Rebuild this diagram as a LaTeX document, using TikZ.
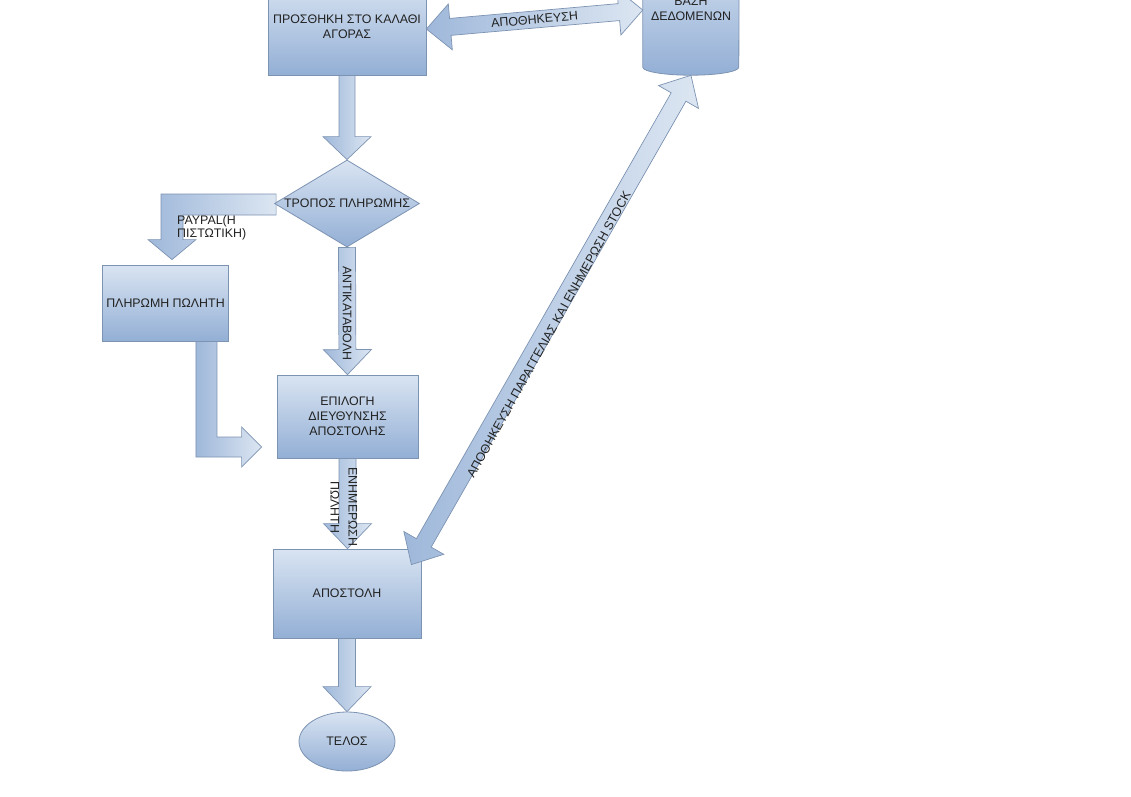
\documentclass[tikz,border=0pt]{standalone}
\usepackage{fontspec}
\setmainfont{Liberation Sans}
\usetikzlibrary{shapes.geometric,calc,backgrounds}
\definecolor{boxtop}{HTML}{D9E4F2}
\definecolor{boxbot}{HTML}{93AFD5}
\definecolor{edge}{HTML}{7D93B2}
\definecolor{arrdark}{HTML}{9FB8DA}
\definecolor{arrlight}{HTML}{DCE6F2}
\definecolor{txt}{HTML}{222222}

% single block arrow: start, end, shaft half width, head half width, head length
\newcommand\sblockarrow[5]{%
  \path (#1) coordinate (baA) (#2) coordinate (baB);
  \pgfpointdiff{\pgfpointanchor{baA}{center}}{\pgfpointanchor{baB}{center}}%
  \pgfgetlastxy{\badx}{\bady}%
  \pgfmathsetmacro\baang{atan2(\bady,\badx)}%
  \pgfmathsetmacro\balen{veclen(\badx,\bady)}%
  \begin{scope}[shift={(baA)},rotate=\baang]
    \draw[blockarr] (0pt,#3pt) -- ({\balen pt-#5pt},#3pt) -- ({\balen pt-#5pt},#4pt)
      -- (\balen pt,0pt) -- ({\balen pt-#5pt},-#4pt) -- ({\balen pt-#5pt},-#3pt)
      -- (0pt,-#3pt) -- cycle;
  \end{scope}}
% double block arrow
\newcommand\dblockarrow[5]{%
  \path (#1) coordinate (baA) (#2) coordinate (baB);
  \pgfpointdiff{\pgfpointanchor{baA}{center}}{\pgfpointanchor{baB}{center}}%
  \pgfgetlastxy{\badx}{\bady}%
  \pgfmathsetmacro\baang{atan2(\bady,\badx)}%
  \pgfmathsetmacro\balen{veclen(\badx,\bady)}%
  \begin{scope}[shift={(baA)},rotate=\baang]
    \draw[blockarr] (0pt,0pt) -- (#5pt,#4pt) -- (#5pt,#3pt) -- ({\balen pt-#5pt},#3pt)
      -- ({\balen pt-#5pt},#4pt) -- (\balen pt,0pt) -- ({\balen pt-#5pt},-#4pt)
      -- ({\balen pt-#5pt},-#3pt) -- (#5pt,-#3pt) -- (#5pt,-#4pt) -- cycle;
  \end{scope}}

\begin{document}
\begin{tikzpicture}[x=1pt,y=-1pt,
  box/.style={draw=edge, line width=0.8pt, top color=boxtop, bottom color=boxbot,
    align=center, text=txt, font=\fontsize{12.4}{15}\selectfont, inner sep=2pt},
  blockarr/.style={draw=edge, line width=0.7pt, left color=arrdark, right color=arrlight,
    line join=miter},
  lbl/.style={text=txt, font=\fontsize{12.4}{15}\selectfont, inner sep=0pt, align=center}]
\useasboundingbox (0,0) rectangle (1131,796);

% nodes
\node[box, minimum width=158pt, minimum height=96pt] (add) at (347,27) {ΠΡΟΣΘΗΚΗ ΣΤΟ ΚΑΛΑΘΙ\\ΑΓΟΡΑΣ};
\node[lbl, minimum width=96pt, minimum height=132pt] (db) at (691,9) {ΒΑΣΗ\\ΔΕΔΟΜΕΝΩΝ};
\node[box, diamond, minimum width=145pt, minimum height=87pt, inner sep=0pt,
  label={[lbl]center:ΤΡΟΠΟΣ ΠΛΗΡΩΜΗΣ}] (pm) at (347,203.5) {};
\node[box, minimum width=126pt, minimum height=76pt] (pay) at (165.5,303) {ΠΛΗΡΩΜΗ ΠΩΛΗΤΗ};
\node[box, minimum width=141pt, minimum height=83pt] (addr) at (347.5,416.5) {ΕΠΙΛΟΓΗ\\ΔΙΕΥΘΥΝΣΗΣ\\ΑΠΟΣΤΟΛΗΣ};
\node[box, minimum width=148pt, minimum height=89pt] (send) at (347,593.5) {ΑΠΟΣΤΟΛΗ};
\node[box, ellipse, minimum width=96pt, minimum height=59pt, inner sep=0pt] (end) at (347,741.5) {ΤΕΛΟΣ};

% helper coordinates
\coordinate (pT) at ($(pay.north)+(6.5,-5)$);
\coordinate (qT) at ($(addr.west)+(-15,30.5)$);
\coordinate (aL) at ($(add.east)+(0,2)$);
\coordinate (aR) at ($(db.west)+(0,1)$);
\coordinate (sT) at ($(send.north east)+(-10,16)$);
\coordinate (sN) at (addr.south |- send.north);

\begin{pgfonlayer}{background}
  \fill[white] (0,0) rectangle (1131,796);
  % database cylinder
  \draw[draw=edge, line width=0.8pt, top color=boxtop, bottom color=boxbot]
    let \p1=(db.north west), \p2=(db.south east) in
    (\x1,\y1) -- (\x1,\y2+8pt) arc[start angle=180, end angle=360, x radius=48pt, y radius=8pt]
    -- (\x2,\y1) -- cycle;
  % PAYPAL elbow arrow
  \draw[blockarr] let \p1=(pm.west), \p2=(pT) in
    (\x1+2pt,\y1+9.5pt) -- (\x2-11pt,\y1+9.5pt) -- (\x2-11pt,\y2+20pt) -- (\x2-24pt,\y2+20pt)
    -- (\p2) -- (\x2+24pt,\y2+20pt) -- (\x2+11pt,\y2+20pt) -- (\x2+11pt,\y1-11.5pt)
    -- (\x1+2pt,\y1-11.5pt) -- cycle;
  % pay -> addr elbow arrow
  \draw[blockarr] let \p1=(pay.south east), \p2=(qT) in
    (\x1-33pt,\y1) -- (\x1-33pt,\y2-10pt) -- (\x2-20pt,\y2-10pt) -- (\x2-20pt,\y2-20pt)
    -- (\p2) -- (\x2-20pt,\y2+20pt) -- (\x2-20pt,\y2+10pt) -- (\x1-12pt,\y2+10pt)
    -- (\x1-12pt,\y1) -- cycle;
\end{pgfonlayer}

% straight block arrows
\sblockarrow{add.south}{pm.north}{8}{24}{23}
\sblockarrow{pm.south}{addr.north}{8.5}{24}{25}
\sblockarrow{addr.south}{sN}{8.5}{24}{25}
\sblockarrow{send.south}{end.north}{8.5}{24}{25}
\dblockarrow{aL}{aR}{8.5}{23}{24}
\dblockarrow{sT}{db.south}{8.5}{23}{25}

% connector labels
\path (aL) -- (aR) node[lbl, midway, sloped] {ΑΠΟΘΗΚΕΥΣΗ};
\path (pm.south) -- (addr.north) node[lbl, pos=0.52, rotate=-90] {ΑΝΤΙΚΑΤΑΒΟΛΗ};
\node[lbl, rotate=-90] at ($(addr.south)!0.54!(sN)+(-3.5,0)$) {ΕΝΗΜΕΡΩΣΗ\\[3pt]ΠΩΛΗΤΗ};
\node[lbl, anchor=west, align=left, font=\fontsize{12.4}{13}\selectfont] at ($(pT)+(5,-32)$) {PAYPAL(Η\\ΠΙΣΤΩΤΙΚΗ)};
\node[lbl, rotate=61] at ($(sT)!0.47!(db.south)+(6,0)$) {ΑΠΟΘΗΚΕΥΣΗ ΠΑΡΑΓΓΕΛΙΑΣ ΚΑΙ ΕΝΗΜΕΡΩΣΗ STOCK};
\end{tikzpicture}
\end{document}
